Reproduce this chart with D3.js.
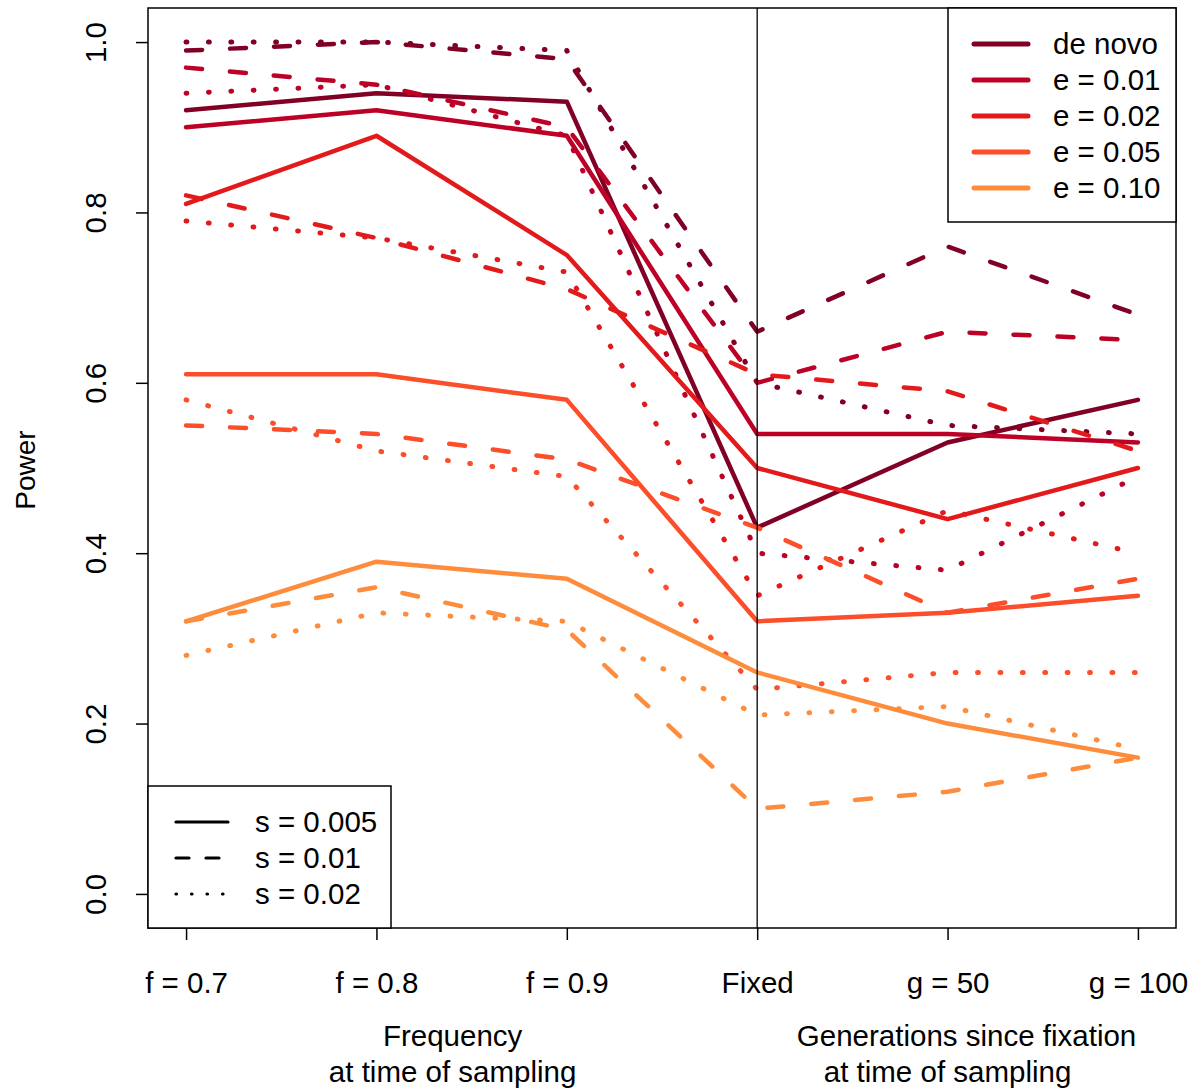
<!DOCTYPE html>
<html>
<head>
<meta charset="utf-8">
<script src="https://cdn.jsdelivr.net/npm/d3@7"></script>
<style>
  html, body { margin: 0; padding: 0; background: #fff; }
  svg { display: block; }
  text { font-family: "Liberation Sans", Arial, Helvetica, sans-serif; fill: #000; }
</style>
</head>
<body>
<svg id="chart" width="1192" height="1090"></svg>
<script>
// Sampling scenarios along the x axis
const categories = ["f = 0.7", "f = 0.8", "f = 0.9", "Fixed", "g = 50", "g = 100"];

// Origin of the selected allele
const groups = ["de novo", "e = 0.01", "e = 0.02", "e = 0.05", "e = 0.10"];
const groupColors = ["#800026", "#BD0026", "#E31A1C", "#FC4E2A", "#FD8D3C"];

// Selection coefficients (line styles)
const sLevels = ["s = 0.005", "s = 0.01", "s = 0.02"];

// Power per scenario: rows are s = 0.005, 0.01, 0.02
const powerDeNovo = [
  [0.92, 0.94, 0.93, 0.43, 0.53, 0.58],
  [0.99, 1.00, 0.98, 0.66, 0.76, 0.68],
  [1.00, 1.00, 0.99, 0.60, 0.55, 0.54]
];
const powerE01 = [
  [0.90, 0.92, 0.89, 0.54, 0.54, 0.53],
  [0.97, 0.95, 0.90, 0.60, 0.66, 0.65],
  [0.94, 0.95, 0.89, 0.40, 0.38, 0.49]
];
const powerE02 = [
  [0.81, 0.89, 0.75, 0.50, 0.44, 0.50],
  [0.82, 0.77, 0.71, 0.61, 0.59, 0.52],
  [0.79, 0.77, 0.73, 0.35, 0.45, 0.40]
];
const powerE05 = [
  [0.61, 0.61, 0.58, 0.32, 0.33, 0.35],
  [0.55, 0.54, 0.51, 0.43, 0.33, 0.37],
  [0.58, 0.52, 0.49, 0.24, 0.26, 0.26]
];
const powerE10 = [
  [0.32, 0.39, 0.37, 0.26, 0.20, 0.16],
  [0.32, 0.36, 0.31, 0.10, 0.12, 0.16],
  [0.28, 0.33, 0.32, 0.21, 0.22, 0.17]
];
const powerByGroup = [powerDeNovo, powerE01, powerE02, powerE05, powerE10];

const yTicks = [0.0, 0.2, 0.4, 0.6, 0.8, 1.0];

// ---- layout ----
const svg = d3.select("#chart");
const box = { left: 148, right: 1176, top: 8, bottom: 928 };
const fontSize = 29.5;

const x = d3.scalePoint()
  .domain(categories)
  .range([box.left, box.right])
  .padding(0.2);

const y = d3.scaleLinear()
  .domain([-0.04, 1.04])
  .range([box.bottom, box.top]);

// line dash patterns for the three s levels
const dashes = [null, "16,28", "0.8,21.6"];
const legendDashes = [null, "13,17", "0.5,15"];

// ---- data lines ----
const line = d3.line()
  .x((d, i) => x(categories[i]))
  .y(d => y(d));

const linesG = svg.append("g");
powerByGroup.forEach((rows, gi) => {
  rows.forEach((vals, si) => {
    linesG.append("path")
      .attr("d", line(vals))
      .attr("fill", "none")
      .attr("stroke", groupColors[gi])
      .attr("stroke-width", si === 2 ? 5 : 4.5)
      .attr("stroke-linecap", "round")
      .attr("stroke-linejoin", "round")
      .attr("stroke-dasharray", dashes[si]);
  });
});

// separator between frequency and post-fixation scenarios
svg.append("line")
  .attr("x1", x("Fixed")).attr("x2", x("Fixed"))
  .attr("y1", box.top).attr("y2", box.bottom)
  .attr("stroke", "#000").attr("stroke-width", 1.3);

// plot frame
svg.append("rect")
  .attr("x", box.left).attr("y", box.top)
  .attr("width", box.right - box.left).attr("height", box.bottom - box.top)
  .attr("fill", "none").attr("stroke", "#000").attr("stroke-width", 1.5);

// ---- x axis ----
const xAxis = d3.axisBottom(x).tickSize(12).tickPadding(8);
const xg = svg.append("g")
  .attr("transform", `translate(0,${box.bottom})`)
  .call(xAxis);
xg.select(".domain").remove();
xg.selectAll(".tick line").attr("stroke", "#000").attr("stroke-width", 1.5);
xg.selectAll(".tick text")
  .attr("font-size", fontSize)
  .attr("font-family", "Liberation Sans, Arial, sans-serif")
  .attr("fill", "#000")
  .attr("dy", null)
  .attr("y", 65);

// ---- y axis ----
const yAxis = d3.axisLeft(y).tickValues(yTicks).tickFormat(d3.format(".1f")).tickSize(12);
const yg = svg.append("g")
  .attr("transform", `translate(${box.left},0)`)
  .call(yAxis);
yg.select(".domain").remove();
yg.selectAll(".tick line").attr("stroke", "#000").attr("stroke-width", 1.5);
yg.selectAll(".tick text")
  .attr("font-size", fontSize)
  .attr("font-family", "Liberation Sans, Arial, sans-serif")
  .attr("fill", "#000")
  .attr("x", null).attr("dy", null)
  .attr("text-anchor", "middle")
  .attr("transform", "translate(-42,0) rotate(-90)");

// axis titles
svg.append("text")
  .attr("transform", `translate(35,470) rotate(-90)`)
  .attr("text-anchor", "middle")
  .attr("font-size", 28)
  .text("Power");

const freqCenter = (x("f = 0.7") + x("Fixed")) / 2 - 19;
svg.append("text").attr("x", freqCenter).attr("y", 1046)
  .attr("text-anchor", "middle").attr("font-size", fontSize).text("Frequency");
svg.append("text").attr("x", freqCenter).attr("y", 1082)
  .attr("text-anchor", "middle").attr("font-size", fontSize).text("at time of sampling");

const genCenter = x("g = 50");
svg.append("text").attr("x", genCenter + 19).attr("y", 1046)
  .attr("text-anchor", "middle").attr("font-size", fontSize).text("Generations since fixation");
svg.append("text").attr("x", genCenter).attr("y", 1082)
  .attr("text-anchor", "middle").attr("font-size", fontSize).text("at time of sampling");

// ---- colour legend (top right) ----
const legA = { x0: 948, y0: box.top, x1: box.right, y1: 222 };
svg.append("rect")
  .attr("x", legA.x0).attr("y", legA.y0)
  .attr("width", legA.x1 - legA.x0).attr("height", legA.y1 - legA.y0)
  .attr("fill", "#fff").attr("stroke", "#000").attr("stroke-width", 1.5);
groups.forEach((g, i) => {
  const cy = 44 + i * 36;
  svg.append("line")
    .attr("x1", 974).attr("x2", 1028).attr("y1", cy).attr("y2", cy)
    .attr("stroke", groupColors[i]).attr("stroke-width", 5)
    .attr("stroke-linecap", "round");
  svg.append("text")
    .attr("x", 1053).attr("y", cy + 10)
    .attr("font-size", fontSize)
    .text(g);
});

// ---- line-style legend (bottom left) ----
const legB = { x0: box.left, y0: 786, x1: 391, y1: box.bottom };
svg.append("rect")
  .attr("x", legB.x0).attr("y", legB.y0)
  .attr("width", legB.x1 - legB.x0).attr("height", legB.y1 - legB.y0)
  .attr("fill", "#fff").attr("stroke", "#000").attr("stroke-width", 1.5);
sLevels.forEach((s, i) => {
  const cy = 822 + i * 36;
  svg.append("line")
    .attr("x1", 176).attr("x2", 228).attr("y1", cy).attr("y2", cy)
    .attr("stroke", "#000").attr("stroke-width", 3.2)
    .attr("stroke-linecap", "round")
    .attr("stroke-dasharray", legendDashes[i]);
  svg.append("text")
    .attr("x", 255).attr("y", cy + 10)
    .attr("font-size", fontSize)
    .text(s);
});
</script>
</body>
</html>
